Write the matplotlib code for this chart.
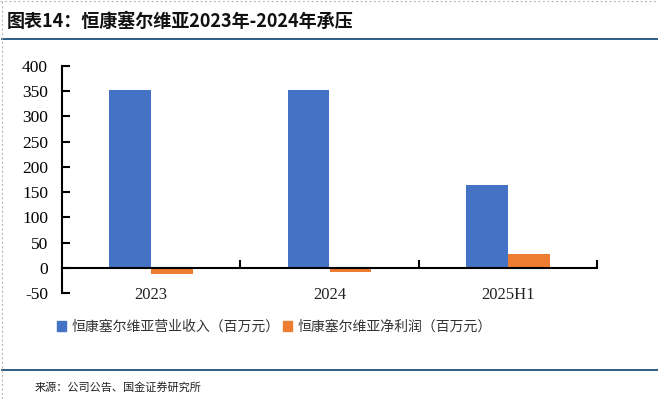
import numpy as np
import matplotlib.pyplot as plt
from matplotlib.lines import Line2D
from matplotlib.patches import Patch
import matplotlib.transforms as mtransforms

# data
categories = ['2023', '2024', '2025H1']
revenue = [352, 352, 164]        # 营业收入（百万元）
net_profit = [-12, -9, 28]       # 净利润（百万元）
yticks = [-50, 0, 50, 100, 150, 200, 250, 300, 350, 400]

blue = '#4472C4'
orange = '#ED7D31'
cjk = ['Noto Sans CJK SC', 'DejaVu Sans']
serif = 'Liberation Serif'

fig = plt.figure(figsize=(6.58, 3.99), dpi=100)
ax = fig.add_axes([62 / 658, 1 - 293 / 399, (597 - 62) / 658, (293 - 66) / 399])

x = np.arange(len(categories))
w = 0.235
ax.bar(x - 0.118, revenue, width=w, color=blue, zorder=2)
ax.bar(x + 0.118, net_profit, width=w, color=orange, zorder=2)

ax.set_xlim(-0.5, 2.5)
ax.set_ylim(-50, 400)
ax.set_yticks(yticks)
ax.set_yticklabels([str(v) for v in yticks], fontfamily=serif, fontsize=12.5)
ax.tick_params(axis='y', direction='in', length=6, width=1.5, pad=10)

# x axis line at zero with ticks at category boundaries
ax.spines['bottom'].set_position(('data', 0))
ax.spines['bottom'].set_linewidth(1.5)
ax.spines['left'].set_linewidth(1.5)
ax.spines['top'].set_visible(False)
ax.spines['right'].set_visible(False)
ax.set_xticks([0.5, 1.5, 2.5])
ax.set_xticklabels([])
ax.tick_params(axis='x', direction='in', length=6, width=1.5)

# category labels sit below the plot, Excel "low" style
trans = mtransforms.blended_transform_factory(ax.transData, ax.transAxes)
for xi, c in zip(x, categories):
    ax.text(xi, -0.01, c, transform=trans, ha='center', va='center',
            fontfamily=serif, fontsize=12, color='#222222')

# legend
handles = [Patch(color=blue), Patch(color=orange)]
labels = ['恒康塞尔维亚营业收入（百万元）', '恒康塞尔维亚净利润（百万元）']
fig.legend(handles, labels, loc='center left', bbox_to_anchor=(44 / 658, 1 - 327 / 399),
           ncol=2, frameon=False, prop={'family': cjk, 'size': 10},
           handlelength=0.7, handleheight=0.7, handletextpad=0.4, columnspacing=0.2,
           labelcolor='#333333')

# title, rules and source
fig.text(7 / 658, 1 - 21 / 399, '图表14：恒康塞尔维亚2023年-2024年承压',
         fontfamily=['Liberation Sans Narrow', 'Noto Sans CJK SC', 'DejaVu Sans'],
         fontweight='bold', fontstyle='italic', fontsize=13, va='center', ha='left',
         color='#111111')
fig.add_artist(Line2D([2 / 658, 1], [1 - 39 / 399] * 2, color='#1F4E79', lw=1.3))
fig.add_artist(Line2D([2 / 658, 1], [1 - 370 / 399] * 2, color='#1F4E79', lw=1.3))
fig.text(35 / 658, 1 - 387 / 399, '来源：公司公告、国金证券研究所', fontfamily=cjk,
         fontsize=8, va='center', ha='left', color='#222222')

# faint dashed frame at top and left edge
fig.add_artist(Line2D([2 / 658, 2 / 658], [0, 1], color='#BBBBBB', lw=0.8, ls=(0, (2, 2))))
fig.add_artist(Line2D([0, 1], [1 - 1 / 399] * 2, color='#BBBBBB', lw=0.8, ls=(0, (2, 2))))

fig.savefig('out.png', dpi=100)
